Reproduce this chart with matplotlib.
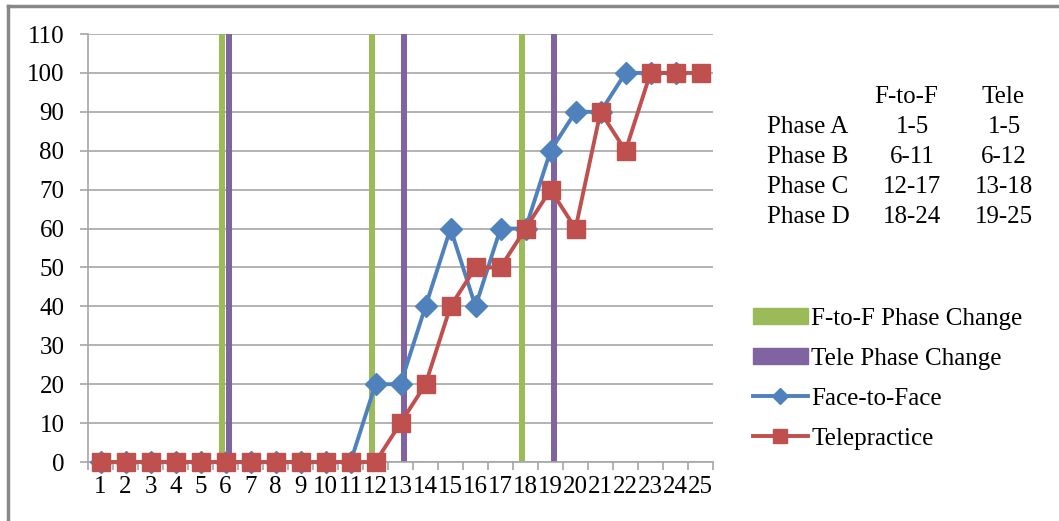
import numpy as np
import matplotlib.pyplot as plt
from matplotlib.patches import Patch
from matplotlib.lines import Line2D

plt.rcParams['font.family'] = ['Liberation Serif', 'DejaVu Serif']

# sessões
sessions = list(range(1, 26))
face_to_face = [0, 0, 0, 0, 0, 0, 0, 0, 0, 0, 0, 20, 20, 40, 60, 40, 60, 60, 80, 90, 90, 100, 100, 100]
telepractice = [0, 0, 0, 0, 0, 0, 0, 0, 0, 0, 0, 0, 10, 20, 40, 50, 50, 60, 70, 60, 90, 80, 100, 100, 100]

# mudanças de fase (barras de altura 110)
ftof_change = [6, 12, 18]
tele_change = [6, 13, 19]
change_height = 110

# tabela das fases
phase_names = ['Phase A', 'Phase B', 'Phase C', 'Phase D']
ftof_ranges = ['1-5', '6-11', '12-17', '18-24']
tele_ranges = ['1-5', '6-12', '13-18', '19-25']

c_blue = '#4F81BD'
c_red = '#C0504D'
c_green = '#9BBB59'
c_purple = '#8064A2'
c_grid = '#A6A6A6'

fig = plt.figure(figsize=(10.59, 5.21), dpi=100)
ax = fig.add_axes([0.0831, 0.1132, 0.5902, 0.8215])

ax.bar(np.array(ftof_change) - 0.13, [change_height] * 3, width=0.24, color=c_green, zorder=2)
ax.bar(np.array(tele_change) + 0.13, [change_height] * 3, width=0.24, color=c_purple, zorder=2)

ax.plot(sessions[:len(face_to_face)], face_to_face, color=c_blue, lw=2.8, marker='D',
        markersize=11, zorder=3, clip_on=False)
ax.plot(sessions, telepractice, color=c_red, lw=2.8, marker='s', markersize=12.5,
        zorder=4, clip_on=False)

ax.set_xlim(0.5, 25.5)
ax.set_ylim(0, 110)
ax.set_yticks(range(0, 111, 10))
ax.yaxis.grid(True, color=c_grid, lw=1.2, zorder=0)
ax.set_axisbelow(True)

ax.set_xticks(sessions)
ax.set_xticklabels([str(s) for s in sessions])
ax.set_xticks(np.arange(0.5, 25.6, 1), minor=True)
ax.tick_params(axis='x', which='major', length=0, pad=10, labelsize=18)
ax.tick_params(axis='x', which='minor', length=6, color=c_grid, width=1.2, direction='out')
ax.tick_params(axis='y', length=6, color=c_grid, width=1.2, labelsize=18, pad=11)

for s in ['top', 'right']:
    ax.spines[s].set_visible(False)
for s in ['left', 'bottom']:
    ax.spines[s].set_color(c_grid)
    ax.spines[s].set_linewidth(1.2)

# tabela de fases
fs = 18
fig.text(906 / 1059, 1 - 97 / 521, 'F-to-F', ha='center', va='center', fontsize=fs)
fig.text(1003 / 1059, 1 - 97 / 521, 'Tele', ha='center', va='center', fontsize=fs)
for i, name in enumerate(phase_names):
    y = 1 - (127 + 30 * i) / 521
    fig.text(767 / 1059, y, name, ha='left', va='center', fontsize=fs)
    fig.text(912 / 1059, y, ftof_ranges[i], ha='center', va='center', fontsize=fs)
    fig.text(1004 / 1059, y, tele_ranges[i], ha='center', va='center', fontsize=fs)

# legenda
handles = [
    Patch(color=c_green),
    Patch(color=c_purple),
    Line2D([], [], color=c_blue, lw=2.8, marker='D', markersize=8),
    Line2D([], [], color=c_red, lw=2.8, marker='s', markersize=10),
]
labels = ['F-to-F Phase Change', 'Tele Phase Change', 'Face-to-Face', 'Telepractice']
fig.legend(handles, labels, loc='upper left', bbox_to_anchor=(730 / 1059, 1 - 285 / 521),
           frameon=False, fontsize=18, handlelength=2.2, handleheight=0.65,
           labelspacing=0.72, handletextpad=0.15)

# borda do gráfico
fig.add_artist(Line2D([8 / 1059, 8 / 1059], [0, 1 - 6 / 521], color='#888888', lw=2.5))
fig.add_artist(Line2D([8 / 1059, 1], [1 - 6 / 521, 1 - 6 / 521], color='#888888', lw=2.5))

fig.savefig('out.png', dpi=100)
